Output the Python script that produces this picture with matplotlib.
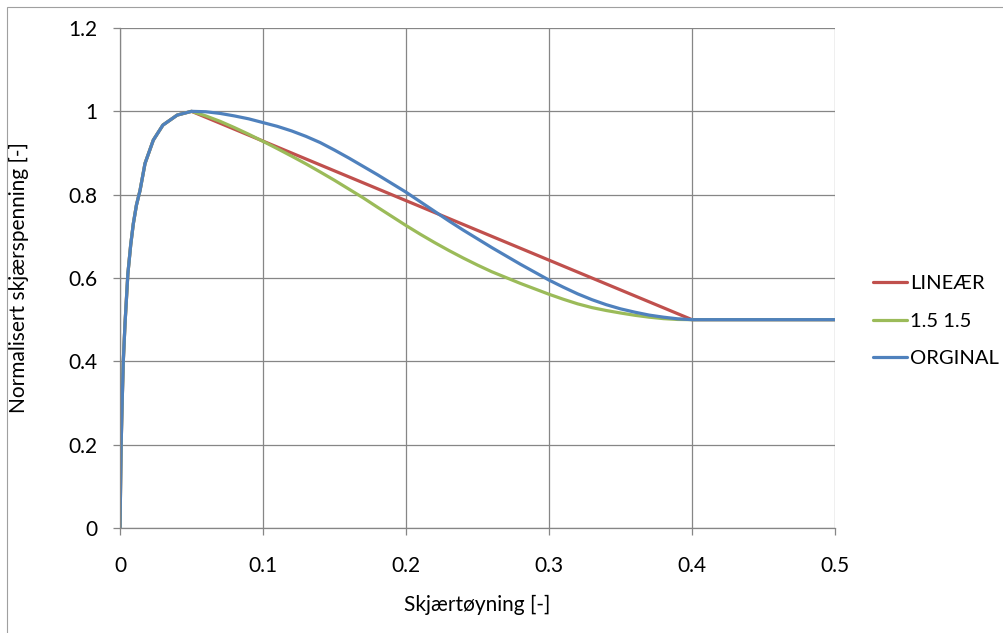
import numpy as np
import matplotlib
matplotlib.use("Agg")
import matplotlib.pyplot as plt
from matplotlib.patches import Rectangle

plt.rcParams["font.family"] = ["Lato", "DejaVu Sans"]

# Shared pre-peak branch (hardening part, identical for all three models)
rise_x = [0.0, 0.0008, 0.0015, 0.0023, 0.0035, 0.0055, 0.0075, 0.0093,
          0.0115, 0.014, 0.0175, 0.0233, 0.030, 0.040, 0.050]
rise_y = [0.0, 0.20, 0.30, 0.40, 0.49, 0.61, 0.68, 0.73,
          0.775, 0.81, 0.875, 0.931, 0.967, 0.991, 1.0]

# Softening branches after the peak
linear_x = [0.05, 0.40, 0.50]
linear_y = [1.0, 0.50, 0.50]

soft_x = [0.05, 0.06, 0.07, 0.08, 0.09, 0.10, 0.11, 0.12, 0.13, 0.14,
          0.15, 0.16, 0.17, 0.18, 0.19, 0.20, 0.21, 0.22, 0.23, 0.24,
          0.25, 0.26, 0.27, 0.28, 0.29, 0.30, 0.31, 0.32, 0.33, 0.34,
          0.35, 0.36, 0.37, 0.38, 0.39, 0.40, 0.50]

curve15_y = [1.0, 0.989, 0.976, 0.961, 0.945, 0.928, 0.9105, 0.8925, 0.874, 0.8545,
             0.8345, 0.8135, 0.7925, 0.770, 0.748, 0.726, 0.705, 0.685, 0.666, 0.648,
             0.631, 0.615, 0.601, 0.587, 0.574, 0.561, 0.549, 0.538, 0.529, 0.522,
             0.516, 0.5105, 0.506, 0.5025, 0.5005, 0.50, 0.50]

orig_y = [1.0, 0.999, 0.995, 0.989, 0.982, 0.973, 0.964, 0.953, 0.940, 0.925,
          0.907, 0.888, 0.868, 0.848, 0.827, 0.806, 0.783, 0.760, 0.737, 0.715,
          0.694, 0.673, 0.653, 0.633, 0.614, 0.595, 0.578, 0.562, 0.548, 0.536,
          0.526, 0.518, 0.511, 0.506, 0.502, 0.500, 0.500]

series = [
    ("LINEÆR", linear_x, linear_y, "#C0504D"),
    ("1.5 1.5", soft_x, curve15_y, "#9BBB59"),
    ("ORGINAL", soft_x, orig_y, "#4F81BD"),
]

grid_col = "#868686"
fs = 15

fig = plt.figure(figsize=(10.04, 6.33), dpi=100)
fig.patches.append(Rectangle((7 / 1004, -0.05), 1.2, 1 - 7 / 633 + 0.05,
                             transform=fig.transFigure, fill=False,
                             edgecolor="#A0A0A0", linewidth=0.8))
ax = fig.add_axes([120 / 1004, 105 / 633, 715 / 1004, 500 / 633])

for label, sx, sy, color in series:
    x = np.concatenate([rise_x[:-1], sx])
    y = np.concatenate([rise_y[:-1], sy])
    ax.plot(x, y, color=color, linewidth=2.3, label=label,
            solid_capstyle="round", solid_joinstyle="round")

ax.set_xlim(0, 0.5)
ax.set_ylim(0, 1.2)
ax.set_xticks([0, 0.1, 0.2, 0.3, 0.4, 0.5])
ax.set_xticklabels(["0", "0.1", "0.2", "0.3", "0.4", "0.5"])
ax.set_yticks([0, 0.2, 0.4, 0.6, 0.8, 1.0, 1.2])
ax.set_yticklabels(["0", "0.2", "0.4", "0.6", "0.8", "1", "1.2"])

ax.grid(True, color=grid_col, linewidth=0.9)
ax.set_axisbelow(True)
for side in ["top", "right"]:
    ax.spines[side].set_visible(False)
for side in ["left", "bottom"]:
    ax.spines[side].set_color(grid_col)
    ax.spines[side].set_linewidth(0.9)
ax.tick_params(axis="both", direction="out", length=5, width=0.9,
               color=grid_col, labelsize=fs, labelcolor="black")
ax.tick_params(axis="x", pad=15)
ax.tick_params(axis="y", pad=11)

ax.set_xlabel("Skjærtøyning [-]", fontsize=fs)
ax.set_ylabel("Normalisert skjærspenning [-]", fontsize=fs)
ax.xaxis.set_label_coords(0.5, -(595 - 528) / 500)
ax.yaxis.set_label_coords((29 - 120) / 715, 0.5)

fig.legend(loc="center left", bbox_to_anchor=(873 / 1004, 1 - 321 / 633),
           frameon=False, fontsize=14.5, handlelength=1.7, handletextpad=0.15,
           labelspacing=1.02, borderpad=0, borderaxespad=0)

fig.savefig("out.png", dpi=100)
